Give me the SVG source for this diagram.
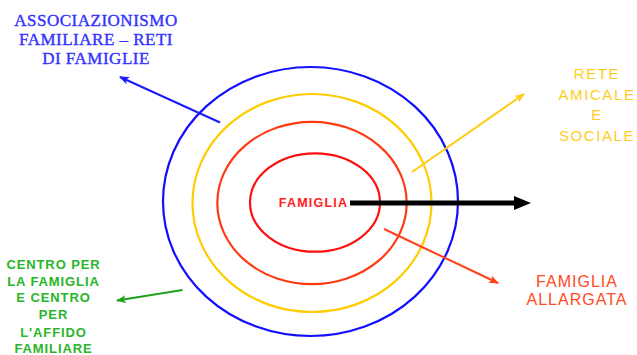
<svg xmlns="http://www.w3.org/2000/svg" width="637" height="355" viewBox="0 0 637 355">
<style>
.ring{fill:none;stroke-width:2.2}
.sans{font-family:"Liberation Sans",Arial,sans-serif;text-anchor:middle}
.serif{font-family:"Liberation Serif","Times New Roman",serif;text-anchor:middle}
.conn{fill:none;stroke-width:2}
</style>
<defs>
<marker id="mb" markerWidth="10" markerHeight="8" refX="9" refY="4" orient="auto" markerUnits="userSpaceOnUse"><path d="M0,0 L10,4 L0,8 L2.5,4 Z" fill="#1a1aff"/></marker>
<marker id="my" markerWidth="10" markerHeight="8" refX="9" refY="4" orient="auto" markerUnits="userSpaceOnUse"><path d="M0,0 L10,4 L0,8 L2.5,4 Z" fill="#ffcc11"/></marker>
<marker id="mr" markerWidth="10" markerHeight="8" refX="9" refY="4" orient="auto" markerUnits="userSpaceOnUse"><path d="M0,0 L10,4 L0,8 L2.5,4 Z" fill="#ff4018"/></marker>
<marker id="mg" markerWidth="10" markerHeight="8" refX="9" refY="4" orient="auto" markerUnits="userSpaceOnUse"><path d="M0,0 L10,4 L0,8 L2.5,4 Z" fill="#1fa01f"/></marker>
</defs>
<rect width="637" height="355" fill="#ffffff"/>
<g id="ring-reti">
<ellipse class="ring" cx="310.5" cy="201.5" rx="147.5" ry="134.5" stroke="#1010ff"/>
</g>
<g id="ring-amicale">
<ellipse class="ring" cx="312" cy="203" rx="119.5" ry="109" stroke="#ffcc00"/>
</g>
<g id="ring-allargata">
<ellipse class="ring" cx="312" cy="203" rx="94.7" ry="81.2" stroke="#ff3a10"/>
</g>
<g id="famiglia">
<ellipse class="ring" cx="315" cy="202.5" rx="65" ry="49.2" stroke="#ff1010"/>
<text class="sans" x="313.5" y="207" font-size="12.5" font-weight="bold" letter-spacing="1.2" fill="#ff2020">FAMIGLIA</text>
</g>
<g id="connectors">
<line x1="350" y1="203" x2="516" y2="203" stroke="#000" stroke-width="5"/>
<path d="M514,196 L531,203 L514,210 Z" fill="#000"/>
<line class="conn" x1="220" y1="122.5" x2="120" y2="77" stroke="#1a1aff" marker-end="url(#mb)"/>
<line class="conn" x1="412" y1="172" x2="524" y2="94" stroke="#ffcc11" marker-end="url(#my)"/>
<line class="conn" x1="384" y1="229" x2="498" y2="283" stroke="#ff4018" marker-end="url(#mr)"/>
<line class="conn" x1="182.5" y1="290" x2="117" y2="300.5" stroke="#1fa01f" marker-end="url(#mg)"/>
</g>
<g id="associazionismo">
<text class="serif" font-size="17" letter-spacing="0.5" fill="#3333ff" stroke="#3333ff" stroke-width="0.4"><tspan x="96" y="26">ASSOCIAZIONISMO</tspan><tspan x="96" y="45">FAMILIARE – RETI</tspan><tspan x="96" y="64">DI FAMIGLIE</tspan></text>
</g>
<g id="rete-amicale">
<text class="sans" font-size="15" letter-spacing="1.6" fill="#ffcc22"><tspan x="597" y="78.5">RETE</tspan><tspan x="597" y="99.5">AMICALE</tspan><tspan x="597" y="120">E</tspan><tspan x="597" y="140.5">SOCIALE</tspan></text>
</g>
<g id="famiglia-allargata">
<text class="sans" font-size="16" letter-spacing="1" fill="#ff4a22"><tspan x="577" y="287">FAMIGLIA</tspan><tspan x="577" y="305">ALLARGATA</tspan></text>
</g>
<g id="centro-famiglia">
<text class="sans" font-size="13" font-weight="bold" letter-spacing="0.9" fill="#2ab52a"><tspan x="53.5" y="268.5">CENTRO PER</tspan><tspan x="53.5" y="285.5">LA FAMIGLIA</tspan><tspan x="53.5" y="302">E CENTRO</tspan><tspan x="53.5" y="319">PER</tspan><tspan x="53.5" y="336.5">L'AFFIDO</tspan><tspan x="53.5" y="353">FAMILIARE</tspan></text>
</g>
</svg>
